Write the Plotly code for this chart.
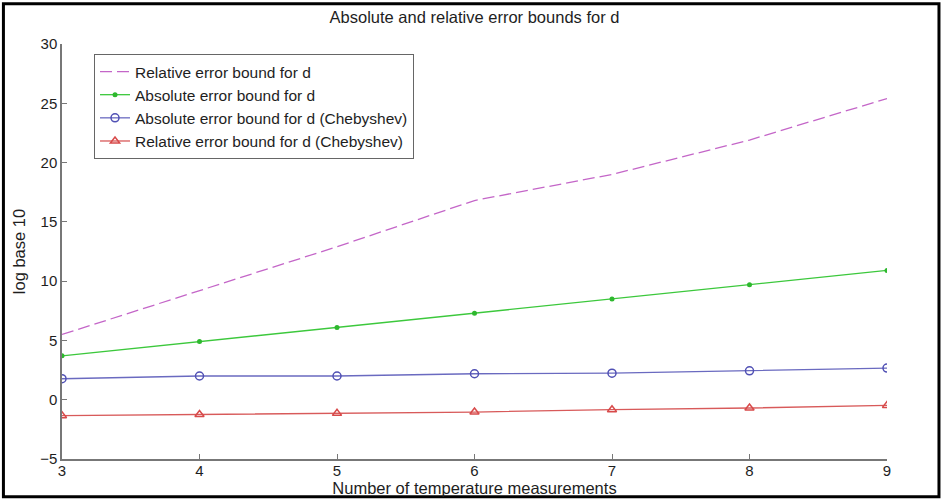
import plotly.graph_objects as go

x_vals = [3, 4, 5, 6, 7, 8, 9]
rel_bound = [5.5, 9.2, 12.9, 16.8, 19.0, 21.9, 25.4]
abs_bound = [3.7, 4.9, 6.1, 7.3, 8.5, 9.7, 10.9]
abs_cheb = [1.77, 2.0, 2.0, 2.19, 2.24, 2.44, 2.67]
rel_cheb = [-1.35, -1.24, -1.15, -1.04, -0.84, -0.70, -0.48]

names = [
    "Relative error bound for d",
    "Absolute error bound for d",
    "Absolute error bound for d (Chebyshev)",
    "Relative error bound for d (Chebyshev)",
]
y_ticks = [-5, 0, 5, 10, 15, 20, 25, 30]

FONT = "Liberation Sans, Arial, sans-serif"
TXT = "#1e1e1e"

fig = go.Figure()
fig.add_trace(go.Scatter(x=x_vals, y=rel_bound, name=names[0], mode="lines",
                         line=dict(color="#c466c8", width=1.3, dash="12px,5px")))
fig.add_trace(go.Scatter(x=x_vals, y=abs_bound, name=names[1], mode="lines+markers",
                         line=dict(color="#3cc83c", width=1.3),
                         marker=dict(symbol="circle", size=5, color="#2eb82e")))
fig.add_trace(go.Scatter(x=x_vals, y=abs_cheb, name=names[2], mode="lines+markers",
                         line=dict(color="#6a6ac0", width=1.3),
                         marker=dict(symbol="circle-open", size=8, color="#5050b4", line=dict(width=1.5))))
fig.add_trace(go.Scatter(x=x_vals, y=rel_cheb, name=names[3], mode="lines+markers",
                         line=dict(color="#d85a5a", width=1.3),
                         marker=dict(symbol="triangle-up-open", size=8, color="#d84a4a", line=dict(width=1.5))))

fig.update_layout(
    width=944, height=500,
    margin=dict(l=62, r=57, t=44, b=41),
    paper_bgcolor="white", plot_bgcolor="white",
    font=dict(family=FONT, size=15, color=TXT),
    title=dict(text="Absolute and relative error bounds for d", x=0.5, xanchor="center",
               xref="paper", y=0.966, yanchor="middle", font=dict(family=FONT, size=16.5, color=TXT)),
    showlegend=True,
    legend=dict(x=0.0388, y=0.976, xanchor="left", yanchor="top",
                bgcolor="white", bordercolor="#666666", borderwidth=1,
                font=dict(family=FONT, size=15.5, color=TXT),
                itemwidth=30, tracegroupgap=0),
)
fig.update_xaxes(range=[3, 9], tickvals=x_vals, ticks="inside", ticklen=5, tickcolor="#777777",
                 showline=True, linecolor="#777777", linewidth=1.5, showgrid=False, zeroline=False,
                 mirror=False, automargin=False, ticklabelstandoff=-3,
                 tickfont=dict(family=FONT, size=15, color=TXT),
                 title=dict(text="Number of temperature measurements", standoff=4,
                            font=dict(family=FONT, size=16.5, color=TXT)))
fig.update_yaxes(range=[-5, 30], tickvals=y_ticks, ticks="inside", ticklen=5, tickcolor="#777777",
                 showline=True, linecolor="#777777", linewidth=1.5, showgrid=False, zeroline=False,
                 mirror=False, automargin=False,
                 tickfont=dict(family=FONT, size=15, color=TXT),
                 title=dict(text="log base 10", standoff=10,
                            font=dict(family=FONT, size=16.5, color=TXT)))

# outer frame of the image
fig.add_shape(type="rect", xref="paper", yref="paper",
              x0=-0.071, x1=1.063, y0=-0.091, y1=1.097,
              line=dict(color="black", width=3), fillcolor="rgba(0,0,0,0)", layer="above")

fig.write_html("out.html", config={"displayModeBar": False},
               post_script="document.body.style.margin='0';document.body.style.overflow='hidden';")
